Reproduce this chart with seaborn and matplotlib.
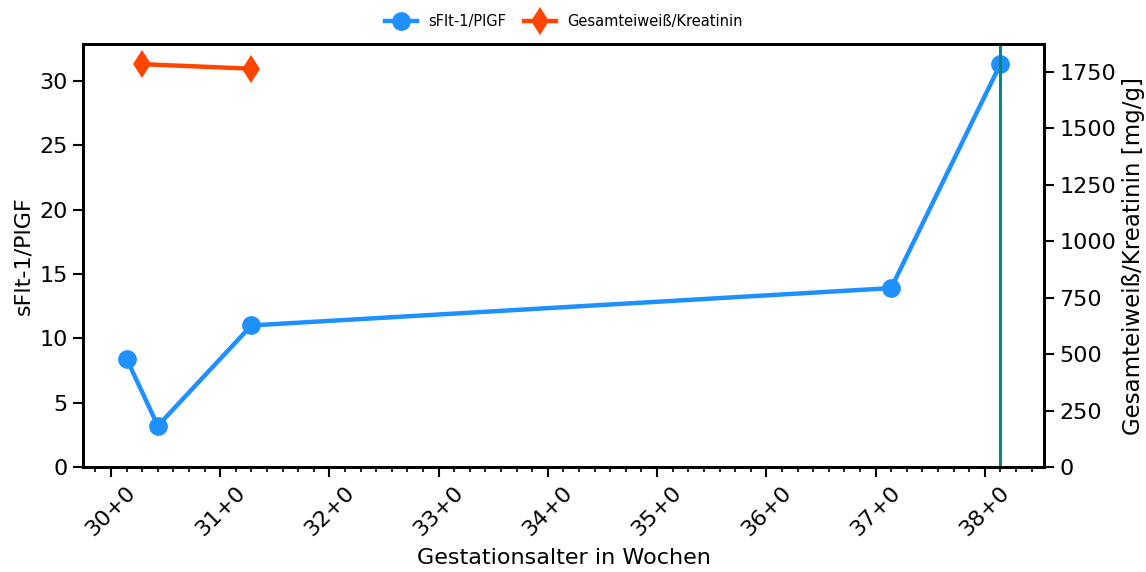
import matplotlib
matplotlib.use("Agg")
import matplotlib.pyplot as plt
import seaborn as sns
import numpy as np
import pandas as pd
from matplotlib.ticker import MultipleLocator, FixedLocator

# Data
sflt_ga = ["30+1", "30+3", "31+2", "37+1", "38+1"]
sflt_values = [8.4, 3.2, 11.0, 13.9, 31.3]
prot_ga = ["30+2", "31+2"]
prot_values = [1785, 1765]
birth_ga = "38+1"
xtick_labels = ["30+0", "31+0", "32+0", "33+0", "34+0", "35+0", "36+0", "37+0", "38+0"]


def ga_to_weeks(s):
    w, d = s.split("+")
    return int(w) + int(d) / 7.0


df_sflt = pd.DataFrame({"x": [ga_to_weeks(s) for s in sflt_ga], "y": sflt_values})
df_prot = pd.DataFrame({"x": [ga_to_weeks(s) for s in prot_ga], "y": prot_values})

plt.rcParams["font.family"] = ["DejaVu Sans"]

fig = plt.figure(figsize=(11.46, 5.72), dpi=100)
ax = fig.add_axes([0.0724, 0.1836, 0.8386, 0.7394])
ax2 = ax.twinx()

blue = "#1E90FF"
red = "#FF4500"
teal = "#118282"

sns.lineplot(data=df_sflt, x="x", y="y", ax=ax, color=blue, marker="o",
             markersize=13.5, linewidth=3.2, markeredgewidth=0, label="sFlt-1/PlGF",
             legend=False)
sns.lineplot(data=df_prot, x="x", y="y", ax=ax2, color=red, marker="d",
             markersize=14.5, linewidth=3.2, markeredgewidth=0,
             label="Gesamteiweiß/Kreatinin", legend=False)

ax.axvline(ga_to_weeks(birth_ga), color=teal, linewidth=2.2)

ax.set_ylim(0, max(sflt_values) * 1.05)
ax2.set_ylim(0, max(prot_values) * 1.05)

ax.xaxis.set_major_locator(FixedLocator(list(range(30, 30 + len(xtick_labels)))))
ax.set_xticklabels(xtick_labels, rotation=45)
ax.xaxis.set_minor_locator(MultipleLocator(1 / 7))
ax.yaxis.set_major_locator(MultipleLocator(5))
ax2.yaxis.set_major_locator(MultipleLocator(250))

ax.set_xlabel("Gestationsalter in Wochen", fontsize=16, labelpad=6)
ax.set_ylabel("sFlt-1/PlGF", fontsize=16)
ax2.set_ylabel("Gesamteiweiß/Kreatinin [mg/g]", fontsize=16.5)

for a in (ax, ax2):
    a.tick_params(axis="both", which="major", labelsize=16, length=7.5, width=1.5)
    a.tick_params(axis="both", which="minor", length=3.5, width=1.2)
    for sp in a.spines.values():
        sp.set_linewidth(2)
    a.grid(False)

h1, l1 = ax.get_legend_handles_labels()
h2, l2 = ax2.get_legend_handles_labels()
fig.legend(h1 + h2, l1 + l2, loc="center", bbox_to_anchor=(0.492, 0.962), ncol=2,
           frameon=False, fontsize=10.5, handlelength=2.2, columnspacing=1.2)

fig.savefig("out.png", dpi=100)
